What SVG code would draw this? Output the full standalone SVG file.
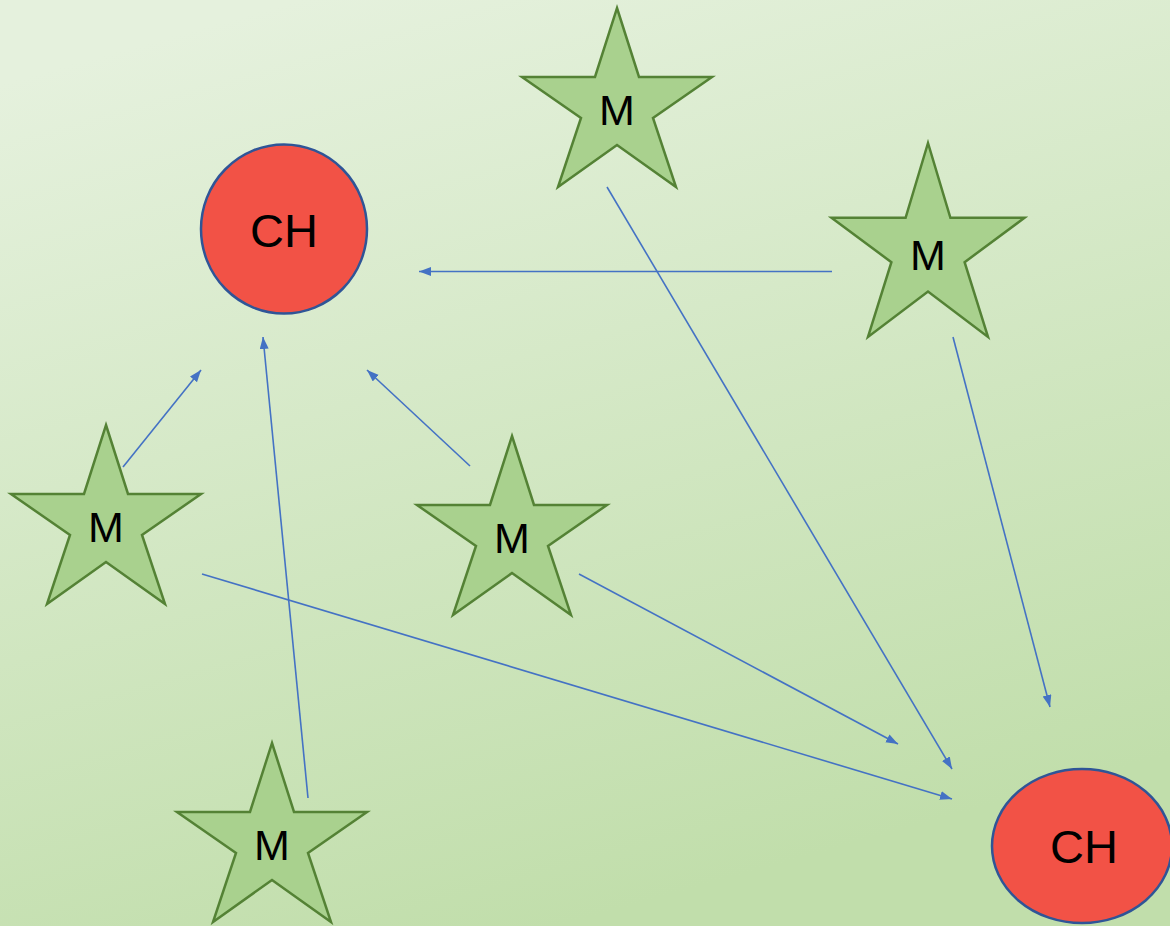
<svg xmlns="http://www.w3.org/2000/svg" width="1170" height="926" viewBox="0 0 1170 926">
<defs>
<linearGradient id="bg" x1="300" y1="0" x2="560" y2="926" gradientUnits="userSpaceOnUse">
<stop offset="0" stop-color="#E5F1DD"/>
<stop offset="1" stop-color="#C1DEAB"/>
</linearGradient>
<marker id="arr" markerUnits="userSpaceOnUse" markerWidth="13" markerHeight="10" refX="12" refY="4.5" orient="auto" viewBox="0 0 13 10">
<path d="M0,0 L12,4.5 L0,9 z" fill="#4472C4"/>
</marker>
<style>
.star{fill:#A9D18E;stroke:#548235;stroke-width:2.5;stroke-linejoin:miter}
.ch{fill:#F25246;stroke:#2F5597;stroke-width:2.5}
.lbl{font-family:"Liberation Sans",Arial,sans-serif;fill:#000;text-anchor:middle}
.m{font-size:43px}
.c{font-size:47px}
.conn line{stroke:#4472C4;stroke-width:1.6;fill:none;marker-end:url(#arr)}
</style>
</defs>
<rect x="0" y="0" width="1170" height="926" fill="url(#bg)"/>
<g id="connectors" class="conn">
<line x1="832" y1="271.5" x2="419" y2="271.5"/>
<line x1="607" y1="187" x2="952" y2="769"/>
<line x1="953" y1="337" x2="1050" y2="707"/>
<line x1="123" y1="467" x2="201" y2="370"/>
<line x1="470" y1="466" x2="367" y2="370"/>
<line x1="308" y1="798" x2="263" y2="337"/>
<line x1="202" y1="574" x2="952" y2="799"/>
<line x1="579" y1="574" x2="898" y2="744"/>
</g>
<g id="ch1">
<ellipse class="ch" cx="284" cy="229" rx="83" ry="84.5"/>
<text class="lbl c" x="284" y="247">CH</text>
</g>
<g id="ch2">
<ellipse class="ch" cx="1082" cy="846" rx="90" ry="77"/>
<text class="lbl c" x="1084" y="863">CH</text>
</g>
<g id="m1">
<polygon class="star" points="617,8 639,77 712,77 653,118 676,187 617,145 558,187 581,118 522,77 595,77"/>
<text class="lbl m" x="617" y="125">M</text>
</g>
<g id="m2">
<polygon class="star" points="928,143 950.4,217.8 1024.5,217.8 964.6,262.2 988,337 928,291.5 868,337 891.4,262.2 831.5,217.8 905.6,217.8"/>
<text class="lbl m" x="928" y="270">M</text>
</g>
<g id="m3">
<polygon class="star" points="106,425 128,494 201,494 142,535 165,604 106,562 47,604 70,535 11,494 84,494"/>
<text class="lbl m" x="106" y="542">M</text>
</g>
<g id="m4">
<polygon class="star" points="512,436 534,505 607,505 548,546 571,615 512,573 453,615 476,546 417,505 490,505"/>
<text class="lbl m" x="512" y="553">M</text>
</g>
<g id="m5">
<polygon class="star" points="272,743 294,812 367,812 308,853 331,922 272,880 213,922 236,853 177,812 250,812"/>
<text class="lbl m" x="272" y="860">M</text>
</g>
</svg>
